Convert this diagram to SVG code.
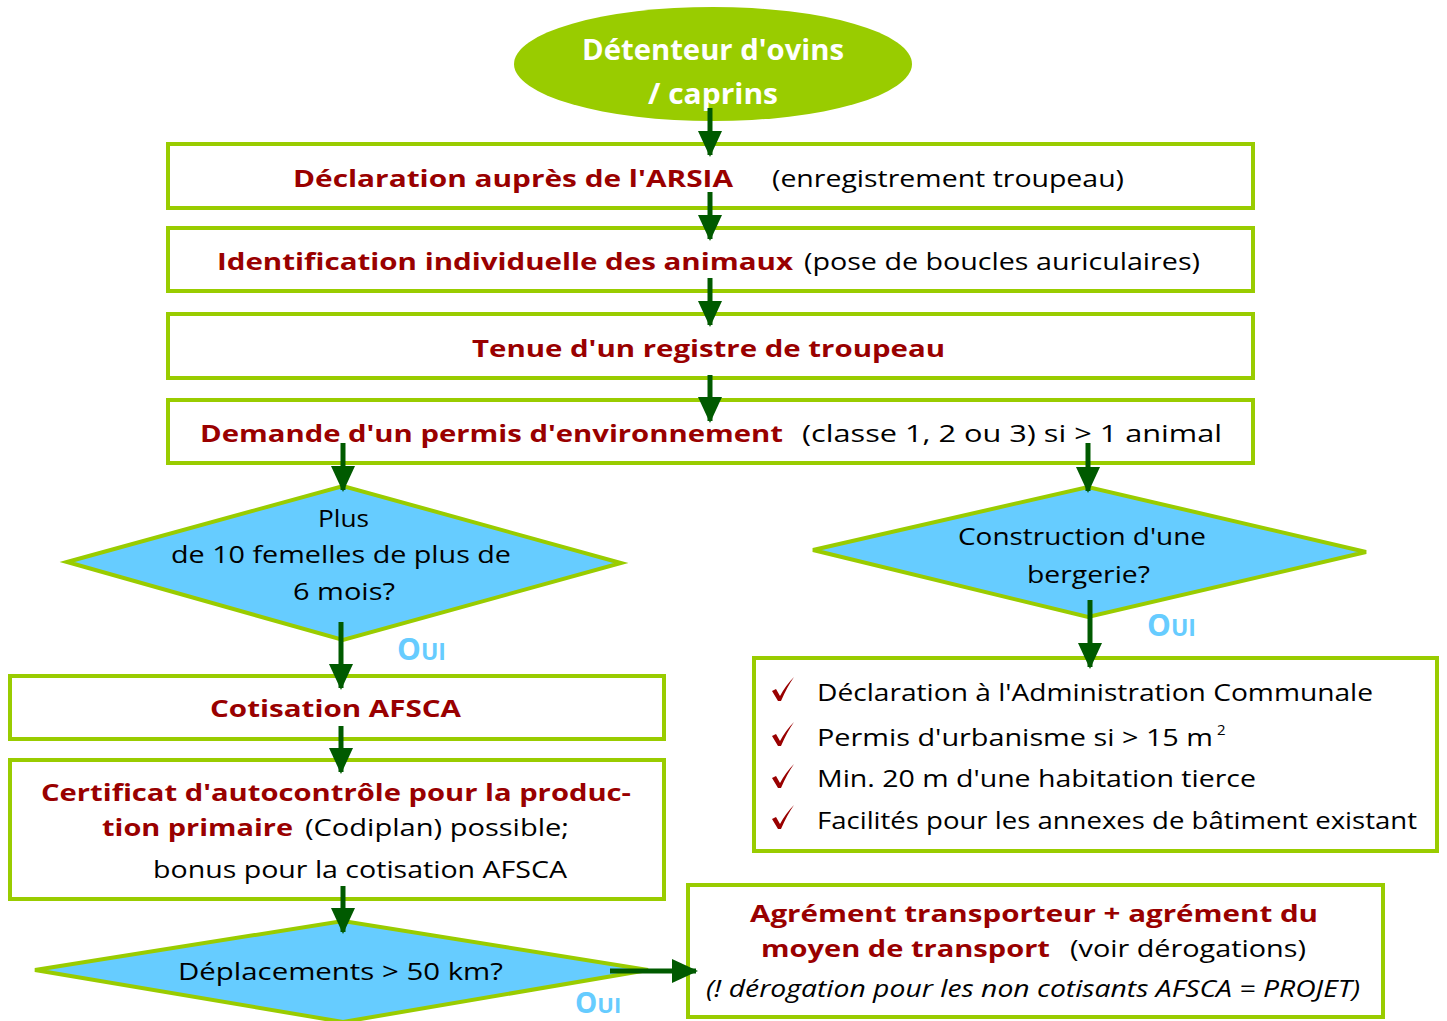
<svg xmlns="http://www.w3.org/2000/svg" width="1447" height="1021" viewBox="0 0 1447 1021">
<style>
.box{fill:#fff;stroke:#99cc00;stroke-width:4}
.dia{fill:#66ccff;stroke:#99cc00;stroke-width:4}
.t{font-family:"Open Sans","Liberation Sans",sans-serif;font-size:23px;fill:#000}
.r{font-family:"Open Sans","Liberation Sans",sans-serif;font-size:23px;font-weight:bold;fill:#990000}
.w{font-family:"Open Sans","Liberation Sans",sans-serif;font-size:28px;font-weight:bold;fill:#fff}
.oui{font-family:"Open Sans","Liberation Sans",sans-serif;font-weight:bold;fill:#66ccff}
.ck{fill:#990000}
.arr{stroke:#005a00;stroke-width:5;fill:none;marker-end:url(#ah)}
</style>
<defs>
<marker id="ah" viewBox="0 0 26 24" refX="24" refY="12" markerWidth="26" markerHeight="24" markerUnits="userSpaceOnUse" orient="auto">
<path d="M0,0 L26,12 L0,24 z" fill="#005a00"/>
</marker>
<path id="check" d="M0,8 L4,6 L8,13 Q14,2 22,-6 Q15,4 9,18 L6,18 Z"/>
</defs>
<rect width="1447" height="1021" fill="#fff"/>

<g id="n-start">
<ellipse cx="713" cy="64" rx="199" ry="57" fill="#99cc00"/>
<text class="w" x="582" y="60" textLength="262" lengthAdjust="spacingAndGlyphs">Détenteur d'ovins</text>
<text class="w" x="648" y="104" textLength="130" lengthAdjust="spacingAndGlyphs">/ caprins</text>
</g>

<g id="n-arsia">
<rect class="box" x="168" y="144" width="1085" height="64"/>
<text class="r" x="293" y="187" textLength="440" lengthAdjust="spacingAndGlyphs">Déclaration auprès de l'ARSIA</text>
<text class="t" x="772" y="187" textLength="352" lengthAdjust="spacingAndGlyphs">(enregistrement troupeau)</text>
</g>

<g id="n-ident">
<rect class="box" x="168" y="228" width="1085" height="63"/>
<text class="r" x="217" y="270" textLength="576" lengthAdjust="spacingAndGlyphs">Identification individuelle des animaux</text>
<text class="t" x="804" y="270" textLength="396" lengthAdjust="spacingAndGlyphs">(pose de boucles auriculaires)</text>
</g>

<g id="n-registre">
<rect class="box" x="168" y="314" width="1085" height="64"/>
<text class="r" x="472" y="357" textLength="473" lengthAdjust="spacingAndGlyphs">Tenue d'un registre de troupeau</text>
</g>

<g id="n-permis">
<rect class="box" x="168" y="400" width="1085" height="63"/>
<text class="r" x="200" y="442" textLength="583" lengthAdjust="spacingAndGlyphs">Demande d'un permis d'environnement</text>
<text class="t" x="802" y="442" textLength="420" lengthAdjust="spacingAndGlyphs">(classe 1, 2 ou 3) si &gt; 1 animal</text>
</g>

<g id="n-femelles">
<polygon class="dia" points="67,562 343,486 621,563 343,640"/>
<text class="t" x="318" y="527" textLength="51" lengthAdjust="spacingAndGlyphs">Plus</text>
<text class="t" x="171" y="563" textLength="340" lengthAdjust="spacingAndGlyphs">de 10 femelles de plus de</text>
<text class="t" x="293" y="600" textLength="102" lengthAdjust="spacingAndGlyphs">6 mois?</text>
</g>

<g id="n-bergerie">
<polygon class="dia" points="813,550 1088,487 1366,552 1088,617"/>
<text class="t" x="958" y="545" textLength="248" lengthAdjust="spacingAndGlyphs">Construction d'une</text>
<text class="t" x="1027" y="583" textLength="123" lengthAdjust="spacingAndGlyphs">bergerie?</text>
</g>

<g id="n-cotisation">
<rect class="box" x="10" y="676" width="654" height="63"/>
<text class="r" x="210" y="717" textLength="251" lengthAdjust="spacingAndGlyphs">Cotisation AFSCA</text>
</g>

<g id="n-certificat">
<rect class="box" x="10" y="760" width="654" height="139"/>
<text class="r" x="41" y="801" textLength="590" lengthAdjust="spacingAndGlyphs">Certificat d'autocontrôle pour la produc-</text>
<text class="r" x="102" y="836" textLength="191" lengthAdjust="spacingAndGlyphs">tion primaire</text>
<text class="t" x="305" y="836" textLength="264" lengthAdjust="spacingAndGlyphs">(Codiplan) possible;</text>
<text class="t" x="153" y="878" textLength="414" lengthAdjust="spacingAndGlyphs">bonus pour la cotisation AFSCA</text>
</g>

<g id="n-deplacements">
<polygon class="dia" points="35,970 343,921 648,970 343,1022"/>
<text class="t" x="178" y="980" textLength="325" lengthAdjust="spacingAndGlyphs">Déplacements &gt; 50 km?</text>
</g>

<g id="n-liste">
<rect class="box" x="754" y="658" width="683" height="193"/>
<use href="#check" class="ck" x="772" y="683"/>
<use href="#check" class="ck" x="772" y="728"/>
<use href="#check" class="ck" x="772" y="770"/>
<use href="#check" class="ck" x="772" y="811"/>
<text class="t" x="817" y="701" textLength="556" lengthAdjust="spacingAndGlyphs">Déclaration à l'Administration Communale</text>
<text class="t" x="817" y="746" textLength="396" lengthAdjust="spacingAndGlyphs">Permis d'urbanisme si &gt; 15 m</text>
<text class="t" x="1217" y="735" style="font-size:15px">2</text>
<text class="t" x="817" y="787" textLength="439" lengthAdjust="spacingAndGlyphs">Min. 20 m d'une habitation tierce</text>
<text class="t" x="817" y="829" textLength="600" lengthAdjust="spacingAndGlyphs">Facilités pour les annexes de bâtiment existant</text>
</g>

<g id="n-agrement">
<rect class="box" x="688" y="885" width="695" height="132"/>
<text class="r" x="750" y="922" textLength="568" lengthAdjust="spacingAndGlyphs">Agrément transporteur + agrément du</text>
<text class="r" x="761" y="957" textLength="289" lengthAdjust="spacingAndGlyphs">moyen de transport</text>
<text class="t" x="1070" y="957" textLength="236" lengthAdjust="spacingAndGlyphs">(voir dérogations)</text>
<text class="t" x="706" y="997" font-style="italic" textLength="654" lengthAdjust="spacingAndGlyphs">(! dérogation pour les non cotisants AFSCA =  PROJET)</text>
</g>

<g id="connectors">
<line class="arr" x1="710" y1="108" x2="710" y2="155"/>
<line class="arr" x1="710" y1="192" x2="710" y2="239"/>
<line class="arr" x1="710" y1="278" x2="710" y2="325"/>
<line class="arr" x1="710" y1="375" x2="710" y2="421"/>
<line class="arr" x1="343" y1="443" x2="343" y2="490"/>
<line class="arr" x1="1088" y1="443" x2="1088" y2="491"/>
<line class="arr" x1="341" y1="622" x2="341" y2="688"/>
<line class="arr" x1="341" y1="726" x2="341" y2="772"/>
<line class="arr" x1="343" y1="886" x2="343" y2="932"/>
<line class="arr" x1="1090" y1="600" x2="1090" y2="667"/>
<line class="arr" x1="610" y1="971" x2="696" y2="971"/>
<text class="oui" x="397" y="660" font-size="30">O<tspan font-size="23">UI</tspan></text>
<text class="oui" x="1147" y="636" font-size="30">O<tspan font-size="23">UI</tspan></text>
<text class="oui" x="575" y="1013" font-size="28">O<tspan font-size="22">UI</tspan></text>
</g>
</svg>
